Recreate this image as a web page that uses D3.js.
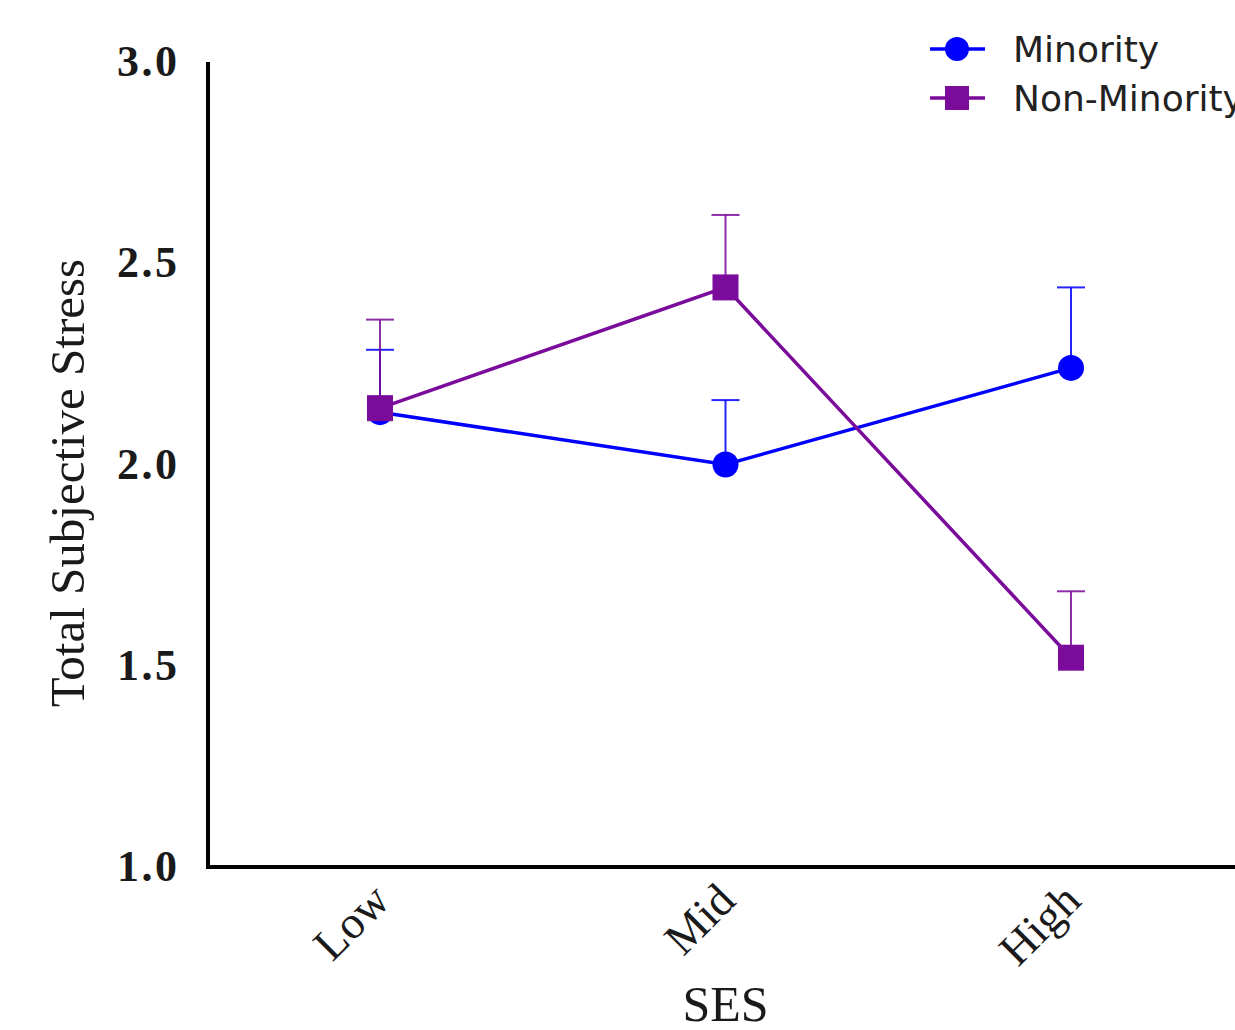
<!DOCTYPE html>
<html>
<head>
<meta charset="utf-8">
<script src="https://cdn.jsdelivr.net/npm/d3@7"></script>
<style>
  body { margin: 0; background: #fff; }
  svg { display: block; }
</style>
</head>
<body>
<svg id="chart" width="1235" height="1030"></svg>
<script>
const categories = ['Low', 'Mid', 'High'];
const seriesNames = ['Minority', 'Non-Minority'];
const minority = [2.13, 2.0, 2.24];
const minorityErr = [0.155, 0.16, 0.2];
const nonMinority = [2.14, 2.44, 1.52];
const nonMinorityErr = [0.22, 0.18, 0.165];
const yTicks = [1.0, 1.5, 2.0, 2.5, 3.0];

const serif = "'Liberation Serif', 'Times New Roman', Times, serif";
const colors = { 'Minority': '#0000ff', 'Non-Minority': '#7a0b9b' };
const series = [
  { name: 'Minority', values: minority, err: minorityErr, shape: 'circle' },
  { name: 'Non-Minority', values: nonMinority, err: nonMinorityErr, shape: 'square' }
];

const svg = d3.select('#chart');
const conf = { left: 208, right: 1235, top: 62, bottom: 867 };

const x = d3.scalePoint().domain(categories).range([380, 1071]);
const y = d3.scaleLinear().domain([1, 3]).range([conf.bottom, conf.top]);

// axes
const axes = svg.append('g');
axes.append('line')
  .attr('x1', conf.left).attr('x2', conf.left)
  .attr('y1', y(3)).attr('y2', conf.bottom + 2)
  .attr('stroke', '#000').attr('stroke-width', 4);
axes.append('line')
  .attr('x1', conf.left - 2).attr('x2', conf.right)
  .attr('y1', conf.bottom).attr('y2', conf.bottom)
  .attr('stroke', '#000').attr('stroke-width', 4);

axes.selectAll('.ytick')
  .data(yTicks)
  .enter()
  .append('text')
  .classed('ytick', true)
  .text(d => d.toFixed(1))
  .attr('x', 177)
  .attr('y', d => y(d) + 14)
  .attr('text-anchor', 'end')
  .attr('font-family', serif)
  .attr('font-weight', 'bold')
  .attr('font-size', 44)
  .attr('textLength', 60)
  .attr('fill', '#1a1a1a');

axes.selectAll('.xtick')
  .data(categories)
  .enter()
  .append('text')
  .classed('xtick', true)
  .text(d => d)
  .attr('transform', d => 'translate(' + (x(d) + 12) + ',' + 903 + ') rotate(-45)')
  .attr('text-anchor', 'end')
  .attr('font-family', serif)
  .attr('font-size', 46)
  .attr('fill', '#1a1a1a');

svg.append('text')
  .text('SES')
  .attr('x', x('Mid'))
  .attr('y', 1021)
  .attr('text-anchor', 'middle')
  .attr('font-family', serif)
  .attr('font-size', 50)
  .attr('fill', '#1a1a1a');

svg.append('text')
  .text('Total Subjective Stress')
  .attr('transform', 'translate(84,' + 483 + ') rotate(-90)')
  .attr('text-anchor', 'middle')
  .attr('font-family', serif)
  .attr('font-size', 49)
  .attr('fill', '#1a1a1a');

// series
const line = d3.line().x((d, i) => x(categories[i])).y(d => y(d));

series.forEach(s => {
  const g = svg.append('g').attr('class', 'series');
  const c = colors[s.name];
  // error bars (upper only)
  s.values.forEach((v, i) => {
    const cx = x(categories[i]);
    g.append('line')
      .attr('x1', cx).attr('x2', cx)
      .attr('y1', y(v)).attr('y2', y(v + s.err[i]))
      .attr('stroke', c).attr('stroke-width', 2).attr('opacity', 0.85);
    g.append('line')
      .attr('x1', cx - 14).attr('x2', cx + 14)
      .attr('y1', y(v + s.err[i])).attr('y2', y(v + s.err[i]))
      .attr('stroke', c).attr('stroke-width', 2).attr('opacity', 0.85);
  });
  g.append('path')
    .datum(s.values)
    .attr('d', line)
    .attr('fill', 'none')
    .attr('stroke', c)
    .attr('stroke-width', 3.5);
  if (s.shape === 'circle') {
    g.selectAll('circle')
      .data(s.values)
      .enter()
      .append('circle')
      .attr('cx', (d, i) => x(categories[i]))
      .attr('cy', d => y(d))
      .attr('r', 13)
      .attr('fill', c);
  } else {
    g.selectAll('rect')
      .data(s.values)
      .enter()
      .append('rect')
      .attr('x', (d, i) => x(categories[i]) - 13)
      .attr('y', d => y(d) - 13)
      .attr('width', 26)
      .attr('height', 26)
      .attr('fill', c);
  }
});

// legend
const legend = svg.append('g').attr('class', 'legend');
seriesNames.forEach((name, i) => {
  const ly = 49 + i * 49;
  const c = colors[name];
  legend.append('line')
    .attr('x1', 930).attr('x2', 985)
    .attr('y1', ly).attr('y2', ly)
    .attr('stroke', c).attr('stroke-width', 3.5);
  if (i === 0) {
    legend.append('circle').attr('cx', 957).attr('cy', ly).attr('r', 12).attr('fill', c);
  } else {
    legend.append('rect').attr('x', 945).attr('y', ly - 12).attr('width', 24).attr('height', 24).attr('fill', c);
  }
  legend.append('text')
    .text(name)
    .attr('x', 1013)
    .attr('y', ly + 13)
    .attr('font-family', 'DejaVu Sans, sans-serif')
    .attr('font-size', 36)
    .attr('fill', '#222');
});
</script>
</body>
</html>
